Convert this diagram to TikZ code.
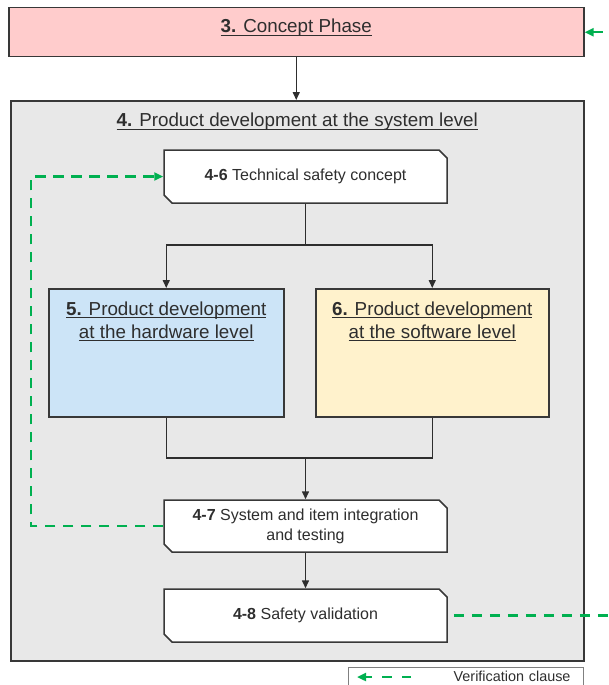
\documentclass[tikz,border=0pt]{standalone}
\usepackage{fontspec}
\setmainfont{Liberation Sans}
\usetikzlibrary{arrows.meta,shapes.misc}
\definecolor{pinkfill}{HTML}{FFCCCC}
\definecolor{grayfill}{HTML}{E8E8E8}
\definecolor{bluefill}{HTML}{CCE4F7}
\definecolor{yellowfill}{HTML}{FFF2CC}
\definecolor{verifgreen}{HTML}{00B050}
\definecolor{inkc}{HTML}{2E2E2E}
\definecolor{edgec}{HTML}{383838}
\newsavebox{\ulbox}
\newcommand{\ulx}[1]{\sbox{\ulbox}{#1}\leavevmode\rlap{\rule[-3.3pt]{\wd\ulbox}{1.2pt}}\usebox{\ulbox}}
\begin{document}
\begin{tikzpicture}[x=1pt,y=-1pt,
  every node/.style={text=inkc},
  phasebox/.style={draw=edgec, line width=1.5pt, rectangle, inner sep=0pt, anchor=north west},
  procbox/.style={draw=edgec, fill=white, line width=1.5pt, chamfered rectangle,
    chamfered rectangle corners={north east,south west},
    chamfered rectangle xsep=4pt, chamfered rectangle ysep=4pt,
    minimum width=283pt, minimum height=53pt, inner sep=0pt, align=center,
    font=\fontsize{16}{20}\selectfont},
  flow/.style={draw=inkc, line width=1.5pt, -{Triangle[length=8pt,width=7pt]}},
  flowline/.style={draw=inkc, line width=1.5pt},
  verif/.style={draw=verifgreen, line width=2.5pt, dash pattern=on 10.5pt off 7.5pt,
    -{Triangle[length=9pt,width=8pt]}},
  titlefont/.style={font=\fontsize{18.8}{23}\selectfont}
]
\useasboundingbox (0,0) rectangle (609,685);

% system level frame
\node[phasebox, fill=grayfill, minimum width=573pt, text height=26pt, text depth=534pt, titlefont]
  (sys) at (10,100) {\ulx{\textbf{4.} Product development at the system level}};

% concept phase
\node[phasebox, fill=pinkfill, minimum width=575pt, text height=24.7pt, text depth=24.3pt, titlefont]
  (concept) at (8,7) {\ulx{\textbf{3.} Concept Phase}};

% process boxes
\node[procbox] (n46) at (305.5,176.5) {\textbf{4-6} Technical safety concept};
\node[procbox, minimum height=52pt] (n47) at (305.5,526) {\textbf{4-7} System and item integration\\and testing};
\node[procbox] (n48) at (305.5,615.5) {\textbf{4-8} Safety validation};

% hardware / software
\node[phasebox, fill=bluefill, minimum width=235pt, text height=26.3pt, text depth=101.7pt]
  (hw) at (48,288) {\parbox[t]{233pt}{\centering\fontsize{18.8}{23}\selectfont
    \ulx{\textbf{5.} Product development}\\\ulx{at the hardware level}}};
\node[phasebox, fill=yellowfill, minimum width=233pt, text height=26.3pt, text depth=101.7pt]
  (sw) at (315,288) {\parbox[t]{231pt}{\centering\fontsize{18.8}{23}\selectfont
    \ulx{\textbf{6.} Product development}\\\ulx{at the software level}}};

% legend
\node[phasebox, draw=black!50, line width=1pt, minimum width=235pt, text width=209pt, align=right,
  inner xsep=13pt, text height=14pt, text depth=19pt, font=\fontsize{14.4}{17}\selectfont]
  (legend) at (348,667) {Verification clause};
\coordinate (legR) at (411,677);
\coordinate (legL) at (357,677);
\draw[verif, dash pattern=on 9.5pt off 10pt] (legR) -- (legL);

% black flow connectors
\draw[flow] (concept.south) -- (concept.south |- sys.north);
\coordinate (split) at (305.5,245);
\draw[flowline] (n46.south) -- (split);
\draw[flow] (split) -| (hw.north);
\draw[flow] (split) -| (sw.north);
\coordinate (join) at (305.5,458);
\draw[flowline] (hw.south) |- (join) -| (sw.south);
\draw[flow] (join) -- (n47.north);
\draw[flow] (n47.south) -- (n48.north);

% verification connectors
\coordinate (loopx) at (31,0);
\draw[verif] (n47.west) -- (n47.west -| loopx) |- (n46.west);
\coordinate (offx) at (641.5,0);
\draw[verif, shorten <=6pt] (n48.east) -- (n48.east -| offx) |- (concept.east);
\end{tikzpicture}
\end{document}
